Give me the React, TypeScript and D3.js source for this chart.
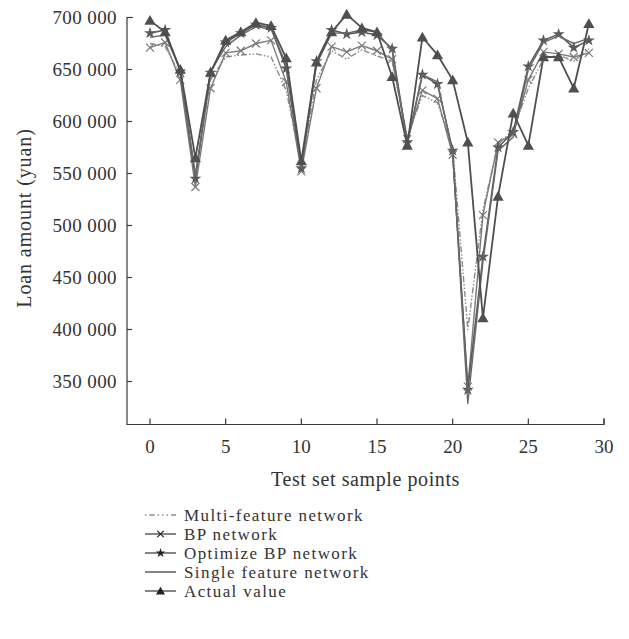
import React from "react";
import * as d3 from "d3";

const samplePoints = d3.range(0, 30);

const actualValue = [697000, 686000, 650000, 565000, 647000, 678000, 686000, 695000, 692000, 661000,
  562000, 657000, 686000, 703000, 690000, 686000, 643000, 577000, 681000, 664000,
  640000, 580000, 411000, 528000, 608000, 577000, 662000, 662000, 632000, 694000];
const optimizeBP = [685000, 688000, 648000, 545000, 647000, 676000, 685000, 693000, 690000, 651000,
  555000, 658000, 688000, 684000, 686000, 683000, 670000, 580000, 645000, 636000,
  572000, 342000, 470000, 575000, 590000, 653000, 678000, 684000, 671000, 678000];
const singleFeature = [681000, 683000, 650000, 548000, 648000, 672000, 683000, 691000, 689000, 655000,
  556000, 655000, 685000, 685000, 688000, 686000, 668000, 578000, 645000, 638000,
  570000, 329000, 465000, 572000, 585000, 650000, 676000, 682000, 675000, 680000];
const bpNetwork = [671000, 676000, 640000, 537000, 632000, 666000, 668000, 675000, 678000, 638000,
  552000, 632000, 672000, 667000, 673000, 668000, 660000, 583000, 630000, 622000,
  568000, 345000, 510000, 580000, 588000, 640000, 667000, 665000, 662000, 666000];
const multiFeature = [675000, 672000, 645000, 550000, 640000, 662000, 664000, 665000, 662000, 630000,
  558000, 640000, 668000, 660000, 669000, 663000, 658000, 585000, 625000, 618000,
  575000, 400000, 515000, 578000, 592000, 632000, 660000, 664000, 658000, 670000];

const xTicks = [0, 5, 10, 15, 20, 25, 30];
const yTicks = [350000, 400000, 450000, 500000, 550000, 600000, 650000, 700000];
const seriesNames = ["Multi-feature network", "BP network", "Optimize BP network", "Single feature network", "Actual value"];

const FONT = "'Liberation Serif', 'DejaVu Serif', serif";

type Marker = "none" | "x" | "star" | "tri";
const seriesList: { name: string; values: number[]; marker: Marker; dash?: string; color: string; width: number }[] = [
  { name: seriesNames[0], values: multiFeature, marker: "none", dash: "6,2,1.5,2,1.5,2", color: "#8a8a8a", width: 1.4 },
  { name: seriesNames[1], values: bpNetwork, marker: "x", color: "#7a7a7a", width: 1.4 },
  { name: seriesNames[2], values: optimizeBP, marker: "star", color: "#5a5a5a", width: 1.6 },
  { name: seriesNames[3], values: singleFeature, marker: "none", color: "#6a6a6a", width: 1.4 },
  { name: seriesNames[4], values: actualValue, marker: "tri", color: "#4f4f4f", width: 1.8 },
];

const fmt = (v: number) => d3.format(",")(v).replace(/,/g, " ");

function MarkerShape({ kind, x, y, color, s = 1 }: { kind: Marker; x: number; y: number; color: string; s?: number }) {
  if (kind === "x") {
    const r = 4 * s;
    return <path d={`M${x - r},${y - r}L${x + r},${y + r}M${x - r},${y + r}L${x + r},${y - r}`} stroke={color} strokeWidth={1.2} fill="none" />;
  }
  if (kind === "star") {
    return <path d={d3.symbol().type(d3.symbolStar).size(45 * s * s)() as string} transform={`translate(${x},${y})`} fill={color} />;
  }
  if (kind === "tri") {
    return <path d={d3.symbol().type(d3.symbolTriangle).size(55 * s * s)() as string} transform={`translate(${x},${y + 1})`} fill={color} />;
  }
  return null;
}

export default function App() {
  const W = 629, H = 639;
  const left = 127, right = 604, top = 17.5, bottom = 424.5;
  const x = d3.scaleLinear().domain([0, 30]).range([150, right]);
  const y = d3.scaleLinear().domain([350000, 700000]).range([381.5, top]);
  const line = d3.line<number>().x((_, i) => x(samplePoints[i])).y((v) => y(v));

  const legendY = [515, 534, 553, 572, 591];

  return (
    <svg width={W} height={H} style={{ position: "absolute", left: 0, top: 0, background: "#fff" }} fontFamily={FONT}>
      <rect width={W} height={H} fill="#fff" />
      {/* axes */}
      <path d={`M${left + 6},${y(700000)}H${left}V${bottom}H${right}V${bottom - 6}`} fill="none" stroke="#3a3a3a" strokeWidth={1.2} />
      {yTicks.map((t) => (
        <g key={t}>
          <line x1={left} x2={left + 5} y1={y(t)} y2={y(t)} stroke="#3a3a3a" strokeWidth={1.2} />
          <text x={117} y={y(t)} dy="0.34em" textAnchor="end" fontSize={19} letterSpacing={0.4} fill="#333">{fmt(t)}</text>
        </g>
      ))}
      {xTicks.map((t) => (
        <g key={t}>
          <line x1={x(t)} x2={x(t)} y1={bottom} y2={bottom - 6} stroke="#3a3a3a" strokeWidth={1.2} />
          <text x={x(t)} y={453} textAnchor="middle" fontSize={19} fill="#333">{t}</text>
        </g>
      ))}
      <text x={(left + right) / 2} y={486} textAnchor="middle" fontSize={20} letterSpacing={0.6} fill="#333">Test set sample points</text>
      <text transform={`translate(31,218) rotate(-90)`} textAnchor="middle" fontSize={20} letterSpacing={0.9} fill="#333">Loan amount (yuan)</text>
      {/* series */}
      {seriesList.map((s) => (
        <g key={s.name}>
          <path d={line(s.values) as string} fill="none" stroke={s.color} strokeWidth={s.width} strokeDasharray={s.dash} strokeLinejoin="round" />
          {s.values.map((v, i) => (
            <MarkerShape key={i} kind={s.marker} x={x(samplePoints[i])} y={y(v)} color={s.color} />
          ))}
        </g>
      ))}
      {/* legend */}
      {seriesList.map((s, i) => (
        <g key={s.name}>
          <line x1={145} x2={176} y1={legendY[i]} y2={legendY[i]} stroke={i === 0 ? "#555" : "#333"} strokeWidth={1.2} strokeDasharray={i === 0 ? "1.5,3,5,3,1.5,3,1.5,3" : undefined} />
          <MarkerShape kind={s.marker} x={160.5} y={legendY[i]} color="#222" s={0.8} />
          <text x={184} y={legendY[i]} dy="0.34em" fontSize={17} letterSpacing={1.4} fill="#333">{s.name}</text>
        </g>
      ))}
    </svg>
  );
}
